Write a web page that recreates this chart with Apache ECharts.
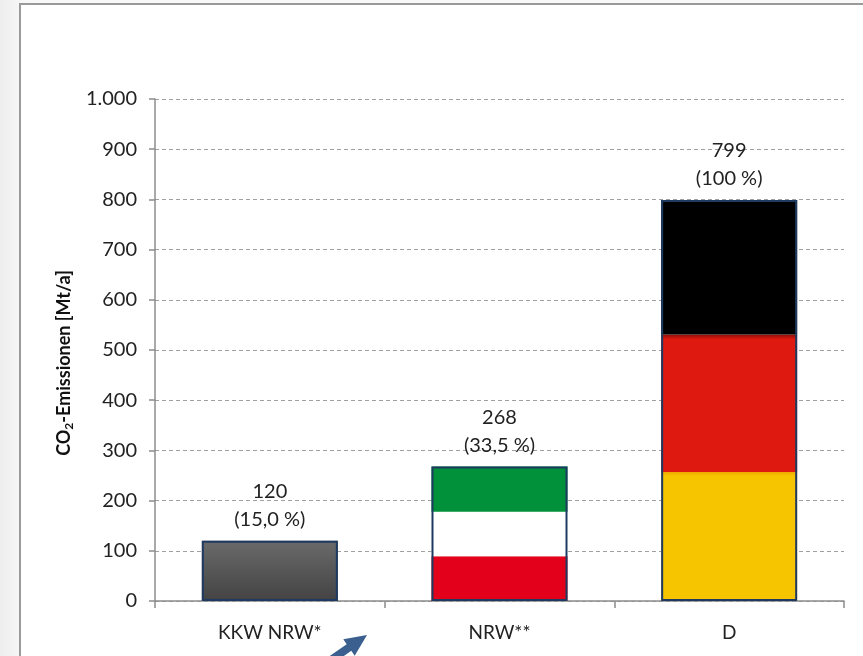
<!DOCTYPE html>
<html>
<head>
<meta charset="utf-8">
<script src="https://cdn.jsdelivr.net/npm/echarts@6/dist/echarts.min.js"></script>
<style>
  html, body { margin: 0; padding: 0; background: #f2f2f2; }
  #chart { width: 863px; height: 656px; }
</style>
</head>
<body>
<div id="chart"></div>
<script>
// CO2 emissions in Mt/a: coal power plants in NRW, NRW total, Germany total
const categories = ['KKW NRW*', 'NRW**', 'D'];
const totals = [120, 268, 799];
const shares = ['15,0', '33,5', '100'];
const yTicks = [0, 100, 200, 300, 400, 500, 600, 700, 800, 900, 1000];

// flag stripes, bottom to top
const bottomStripe = [120, 89, 257];
const middleStripe = [null, 89, 274];
const topStripe = [null, 90, 268];

const FONT = 'Lato, "Open Sans", sans-serif';
const BAR_W = 136;

const grad = (top, bottom) => new echarts.graphic.LinearGradient(0, 0, 0, 1, [
  { offset: 0, color: top }, { offset: 1, color: bottom }
]);

const bottomColors = [grad('#6a6a6a', '#434343'), '#e2001a',
  new echarts.graphic.LinearGradient(0, 0, 0, 1, [
    { offset: 0, color: '#f0a800' }, { offset: 0.03, color: '#f6c500' }, { offset: 1, color: '#f6c500' }])];
const middleColors = [null, '#ffffff',
  new echarts.graphic.LinearGradient(0, 0, 0, 1, [
    { offset: 0, color: '#8a0c08' }, { offset: 0.035, color: '#de1a10' }, { offset: 1, color: '#de1a10' }])];
const topColors = [null, '#00913a', '#000000'];

function stripe(name, values, colors) {
  return {
    name, type: 'bar', stack: 'total', barWidth: BAR_W, silent: true,
    data: values.map((v, i) => v == null ? '-' : { value: v, itemStyle: { color: colors[i] } })
  };
}

const chart = echarts.init(document.getElementById('chart'), null, { renderer: 'canvas' });
chart.setOption({
  animation: false,
  backgroundColor: new echarts.graphic.LinearGradient(0, 0, 1, 0, [
    { offset: 0, color: '#eeeeee' }, { offset: 0.03, color: '#f8f8f8' }, { offset: 1, color: '#f8f8f8' }]),
  graphic: [
    { type: 'rect', z: -10, shape: { x: 20, y: 4, width: 900, height: 700 },
      style: { fill: '#ffffff', stroke: '#9a9a9a', lineWidth: 2 } },
    { type: 'polygon', z: 10, shape: { points: [
        [367, 635], [354.7, 655.7], [351.3, 650.8], [326.7, 667.9],
        [322.1, 661.3], [346.7, 644.2], [343.3, 639.3]] },
      style: { fill: '#3b5f8e' } }
  ],
  grid: { left: 155, right: 19, top: 99, bottom: 55 },
  xAxis: {
    type: 'category', data: categories,
    axisLine: { lineStyle: { color: '#8c8c8c', width: 1.5 } },
    axisTick: { show: true, length: 7, lineStyle: { color: '#8c8c8c', width: 1.5 } },
    axisLabel: { color: '#222', fontFamily: FONT, fontSize: 19, margin: 22 }
  },
  yAxis: {
    type: 'value', min: yTicks[0], max: yTicks[yTicks.length - 1], interval: 100,
    name: '{a|CO}{s|2}{a|-Emissionen [Mt/a]}',
    nameLocation: 'middle', nameRotate: 90, nameGap: 76,
    nameTextStyle: {
      padding: [0, 26, 0, 0],
      rich: {
        a: { fontFamily: FONT, fontWeight: 'bold', fontSize: 18, color: '#111' },
        s: { fontFamily: FONT, fontWeight: 'bold', fontSize: 12, color: '#111', verticalAlign: 'bottom', padding: [9, 0, 0, 0] }
      }
    },
    axisLine: { show: true, lineStyle: { color: '#8c8c8c', width: 1.5 } },
    axisTick: { show: true, length: 6, lineStyle: { color: '#8c8c8c', width: 1.5 } },
    axisLabel: {
      color: '#222', fontFamily: FONT, fontSize: 20, margin: 18,
      formatter: v => v >= 1000 ? (v / 1000).toFixed(0) + '.' + String(v % 1000).padStart(3, '0') : String(v)
    },
    splitLine: { show: true, lineStyle: { color: '#a0a0a0', type: [4, 3], width: 1 } }
  },
  series: [
    stripe('bottom', bottomStripe, bottomColors),
    stripe('middle', middleStripe, middleColors),
    stripe('top', topStripe, topColors),
    {
      name: 'total', type: 'bar', barWidth: BAR_W, barGap: '-100%', z: 5,
      data: totals,
      itemStyle: { color: 'rgba(0,0,0,0)', borderColor: '#1f3a60', borderWidth: 2 },
      label: {
        show: true, position: 'top', distance: 7,
        fontFamily: FONT, fontSize: 20, color: '#222', lineHeight: 28, align: 'center',
        formatter: p => p.value + '\n(' + shares[p.dataIndex] + ' %)'
      }
    }
  ]
});
</script>
</body>
</html>
